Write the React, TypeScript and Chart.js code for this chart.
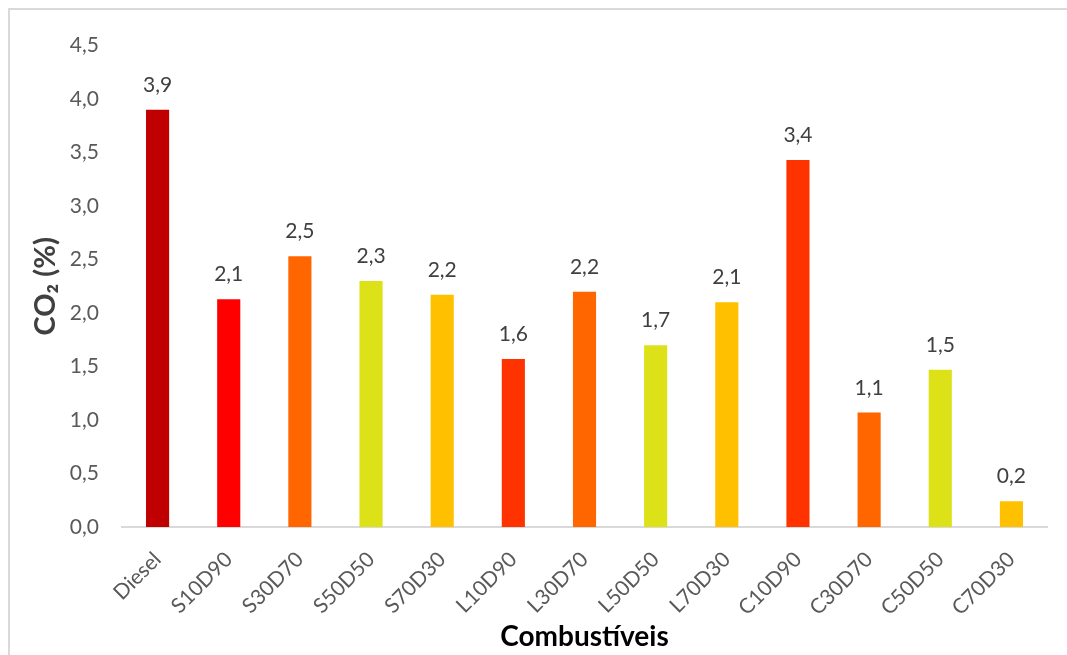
import React, { useEffect, useRef } from "react";
import { Chart, registerables } from "chart.js";

Chart.register(...registerables);

// Fuel blends and measured CO2 content of the exhaust (%)
const categories = [
  "Diesel", "S10D90", "S30D70", "S50D50", "S70D30",
  "L10D90", "L30D70", "L50D50", "L70D30",
  "C10D90", "C30D70", "C50D50", "C70D30",
];
const co2Values = [3.9, 2.13, 2.53, 2.3, 2.17, 1.57, 2.2, 1.7, 2.1, 3.43, 1.07, 1.47, 0.24];
const barColors = [
  "#C00000", "#FF0000", "#FF6600", "#DDE117", "#FFC000",
  "#FF3300", "#FF6600", "#DDE117", "#FFC000",
  "#FF3300", "#FF6600", "#DDE117", "#FFC000",
];
const yTickStep = 0.5;
const yMax = 4.5;

const fmt = (v: number) => v.toFixed(1).replace(".", ",");

const FONT = "Lato, Carlito, 'Liberation Sans', sans-serif";

// Draws the value above each bar, formatted with a decimal comma
const valueLabels = {
  id: "valueLabels",
  afterDatasetsDraw(chart: any) {
    const { ctx } = chart;
    const meta = chart.getDatasetMeta(0);
    ctx.save();
    ctx.font = `21px ${FONT}`;
    ctx.fillStyle = "#404040";
    ctx.textAlign = "center";
    ctx.textBaseline = "alphabetic";
    meta.data.forEach((bar: any, i: number) => {
      const v = chart.data.datasets[0].data[i] as number;
      ctx.fillText(fmt(v), bar.x, bar.y - 18);
    });
    ctx.restore();
  },
};

export default function App() {
  const canvasRef = useRef<HTMLCanvasElement | null>(null);

  useEffect(() => {
    document.documentElement.style.overflow = "hidden";
    document.body.style.overflow = "hidden";
    const canvas = canvasRef.current;
    if (!canvas) return;
    const chart = new Chart(canvas, {
      type: "bar",
      data: {
        labels: categories,
        datasets: [
          {
            data: co2Values,
            backgroundColor: barColors,
            borderWidth: 0,
            categoryPercentage: 1,
            barPercentage: 0.325,
          },
        ],
      },
      plugins: [valueLabels],
      options: {
        animation: false,
        responsive: false,
        maintainAspectRatio: false,
        layout: { padding: { top: 33, right: 30, left: 0, bottom: 0 } },
        plugins: {
          legend: { display: false },
          tooltip: { enabled: false },
        },
        scales: {
          x: {
            grid: { display: false, drawTicks: false },
            border: { display: true, color: "#d9d9d9", width: 2 },
            ticks: {
              color: "#595959",
              font: { family: FONT, size: 21 },
              minRotation: 45,
              maxRotation: 45,
              padding: 20,
            },
            title: {
              display: true,
              text: "Combustíveis",
              color: "#000000",
              font: { family: FONT, size: 28, weight: "bold" },
              padding: { top: 0, bottom: 1 },
            },
            afterFit(scale: any) {
              scale.height = 128;
            },
          },
          y: {
            min: 0,
            max: yMax,
            grid: { display: false, drawTicks: false },
            border: { display: false },
            ticks: {
              stepSize: yTickStep,
              color: "#595959",
              font: { family: FONT, size: 21 },
              padding: 23,
              callback: (v: any) => fmt(Number(v)),
            },
            title: {
              display: true,
              text: "CO₂ (%)",
              color: "#404040",
              font: { family: FONT, size: 29, weight: "bold" },
              padding: { top: 18, bottom: 0 },
            },
            afterFit(scale: any) {
              scale.width = 112;
            },
          },
        },
      },
    });
    return () => chart.destroy();
  }, []);

  return (
    <div
      style={{
        position: "fixed",
        left: 8,
        top: 8,
        width: 1120,
        height: 700,
        boxSizing: "border-box",
        borderTop: "2px solid #d9d9d9",
        borderLeft: "2px solid #d9d9d9",
        background: "#ffffff",
      }}
    >
      <canvas ref={canvasRef} width={1067} height={645} style={{ display: "block" }} />
    </div>
  );
}
